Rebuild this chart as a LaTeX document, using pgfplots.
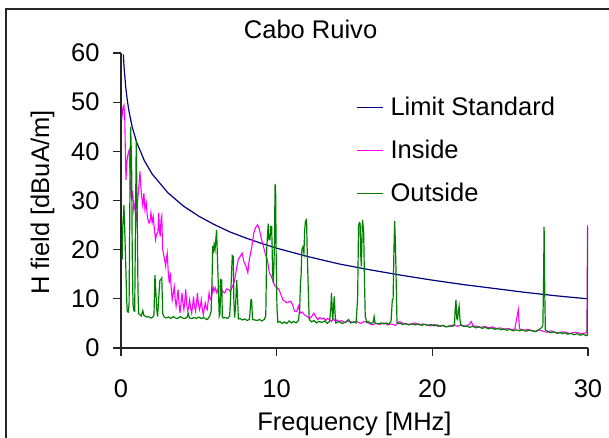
\documentclass[border=0pt]{standalone}
\usepackage{fontspec}
\setmainfont{Liberation Sans}
\usepackage{pgfplots}
\pgfplotsset{compat=1.18}
\definecolor{limitblue}{RGB}{0,0,128}
\definecolor{insidemag}{RGB}{255,0,255}
\definecolor{outsidegreen}{RGB}{0,128,0}

\begin{document}
\fontsize{12.8}{15}\selectfont
\begin{tikzpicture}
\useasboundingbox (-60.5bp,-45bp) rectangle (244bp,174bp);
\draw[line width=1bp, black!85] (-57.6bp,-80bp) -- (-57.6bp,169.5bp) -- (280bp,169.5bp);
\begin{axis}[
  scale only axis,
  width=233.5bp, height=147.5bp,
  xmin=0, xmax=30, ymin=0, ymax=60,
  axis lines=left,
  axis line style={-, line width=0.7bp, black!85},
  xtick={0,10,20,30},
  ytick={0,10,...,60},
  tick align=outside,
  major tick length=4bp,
  tick style={line width=0.6bp, black!85},
  /pgf/number format/assume math mode=true,
  tick label style={font=\fontsize{12.8}{15}\selectfont},
  xticklabel style={anchor=north, inner sep=0pt, yshift=-11.5bp},
  yticklabel style={anchor=east, inner sep=0pt, xshift=-6.5bp},
  xlabel={Frequency [MHz]},
  xlabel style={at={(axis description cs:0.5,0)}, anchor=base, yshift=-41bp},
  ylabel={H field [dBuA/m]},
  ylabel style={at={(axis description cs:-0.154,0.493)}, anchor=base},
  title={Cabo Ruivo},
  title style={at={(axis description cs:0.406,1)}, anchor=base, yshift=1.2bp},
  legend cell align=left,
  legend image code/.code={\draw[#1] (0bp,4.2bp) -- (13bp,4.2bp);},
  legend style={draw=none, fill=none, at={(axis description cs:0.504,0.849)},
    anchor=north west, inner sep=0pt, outer sep=0pt, row sep=12.3bp, column sep=3.5bp,
    nodes={inner sep=0pt, text height=9.2bp, text depth=0bp, anchor=base west},
    font=\fontsize{12.8}{15}\selectfont},
]
% limit standard
\addplot[limitblue, line width=0.6bp] coordinates {
(0.15,59.7) (0.2,57.0) (0.3,53.2) (0.4,50.5) (0.5,48.4) (0.7,45.2) (1,41.9)
(1.5,38.1) (2,35.4) (3,31.6) (4,28.9) (5,26.8) (6,25.1) (7,23.6) (8,22.4)
(9,21.3) (10,20.3) (12,18.6) (14,17.1) (16,15.9) (18,14.8) (20,13.8)
(22,12.9) (24,12.1) (26,11.3) (28,10.6) (30,10.0)
};
% inside
\addplot[insidemag, line width=0.55bp] coordinates {
(0.05,46.5) (0.08,47.4) (0.12,48.8) (0.19,49.4) (0.24,47) (0.28,40) (0.32,34.2)
(0.38,38) (0.45,39.5) (0.53,40.3) (0.6,33) (0.68,30) (0.75,32) (0.82,28)
(0.9,29.5) (1.0,25.7) (1.07,30) (1.15,33) (1.22,35.9) (1.27,33) (1.32,31.1)
(1.4,29) (1.47,31.5) (1.54,28.1) (1.62,29.5) (1.7,26.5) (1.8,25.4) (1.86,25.7)
(1.92,27.5) (2.0,25.5) (2.07,26.7) (2.15,24) (2.22,22) (2.29,23.3) (2.37,23.4)
(2.42,27.5) (2.47,24) (2.52,22.7) (2.57,26) (2.62,26.8) (2.67,20.3) (2.72,19.3)
(2.8,18) (2.87,16.6) (2.93,18.5) (2.97,19.3) (3.04,15.2) (3.1,13.2) (3.17,15.3)
(3.23,12) (3.29,9.8) (3.35,11) (3.42,12.5) (3.48,10) (3.54,8.5) (3.6,10)
(3.67,11.9) (3.73,9) (3.79,7.1) (3.85,9) (3.92,11.2) (3.98,9) (4.04,7.8)
(4.1,9.5) (4.16,11.9) (4.22,9) (4.29,7.5) (4.35,8.5) (4.41,9.8) (4.48,8)
(4.54,7.1) (4.6,8.5) (4.66,10.5) (4.72,8.5) (4.79,7.5) (4.85,9) (4.91,11.2)
(4.97,9) (5.04,7.8) (5.1,8.5) (5.16,9.8) (5.22,8) (5.29,6.8) (5.35,8)
(5.41,9.2) (5.48,8.2) (5.54,7.8) (5.6,9.5) (5.66,11.2) (5.72,10.2) (5.79,9.8)
(5.85,11) (5.91,12.5) (5.97,11.5) (6.05,12.3) (6.16,11.2) (6.28,12.5) (6.41,12.5)
(6.53,11.5) (6.66,11.2) (6.78,12) (6.91,11.9) (7.03,11.5) (7.16,12.5) (7.28,13.5)
(7.41,15.9) (7.53,18) (7.65,18.6) (7.78,19.3) (7.9,17.5) (8.03,16.6) (8.15,15.3)
(8.22,17.5) (8.28,18.6) (8.4,20.5) (8.53,23.4) (8.65,24.5) (8.78,25.1) (8.9,24)
(9.03,22) (9.15,20.7) (9.28,19) (9.4,18) (9.53,15.3) (9.65,14.6) (9.78,13.5)
(9.9,12.5) (10.02,12.3) (10.15,11.9) (10.28,10.8) (10.4,9.8) (10.52,9.5)
(10.65,9.2) (10.78,9.4) (10.9,9.5) (11.02,8.8) (11.15,7.5) (11.29,7.4) (11.4,8.5)
(11.52,7.1) (11.65,7.3) (11.77,6.8) (11.9,6.5) (12.02,6.2) (12.14,6.1) (12.27,6.5)
(12.39,7.1) (12.52,6.3) (12.64,5.8) (12.77,6.2) (12.9,5.9) (13.02,6.1) (13.15,5.6)
(13.27,6) (13.39,5.8) (13.52,5.4) (13.65,5.9) (13.77,5.5) (13.9,5.7) (14.02,5.3)
(14.14,5.6) (14.4,5.2) (14.64,5.5) (14.89,5.2) (15.14,5.4) (15.39,5.0) (15.64,5.4)
(15.89,5.1) (16.13,4.7) (16.38,5.0) (16.63,4.8) (16.88,5.1) (17.13,4.7) (17.38,4.9)
(17.63,4.6) (17.88,5.4) (18.13,5.0) (18.38,4.8) (18.63,4.9) (18.88,5.1) (19.13,4.7)
(19.38,4.9) (19.63,4.7) (19.88,4.5) (20.13,4.8) (20.37,4.4) (20.62,4.6) (20.87,4.3)
(21.12,4.5) (21.37,4.7) (21.62,4.4) (21.87,4.7) (22.12,4.4) (22.37,4.8) (22.49,5.4)
(22.62,4.5) (22.87,4.4) (23.12,4.2) (23.37,4.4) (23.62,4.1) (23.87,4.3) (24.12,3.9)
(24.36,4.1) (24.61,3.8) (24.86,4.0) (25.1,3.7) (25.3,3.9) (25.45,6.5) (25.52,7.8)
(25.6,3.9) (25.85,3.6) (26.1,3.8) (26.36,3.6) (26.61,3.4) (26.86,3.7) (27.1,3.4)
(27.36,3.2) (27.61,3.5) (27.86,3.2) (28.1,3.0) (28.35,3.3) (28.6,3.2) (28.85,2.9)
(29.1,3.2) (29.35,3.1) (29.6,2.9) (29.85,3.1) (29.93,3.2) (29.97,24.7) (30,25)
};
% outside
\addplot[outsidegreen, line width=0.6bp] coordinates {
(0.05,18) (0.08,18.2) (0.12,25) (0.19,29.1) (0.25,23) (0.32,15.2) (0.37,9.5)
(0.4,7.4) (0.47,7.3) (0.52,9) (0.57,30) (0.62,44.9) (0.68,38) (0.72,20) (0.77,9)
(0.82,7.6) (0.88,7.5) (0.93,25) (0.98,42.3) (1.02,32) (1.05,24.6) (1.09,12)
(1.13,7.0) (1.2,6.8) (1.3,6.5) (1.4,7.6) (1.47,6.6) (1.55,6.5) (1.65,6.3)
(1.75,6.4) (1.85,6.2) (1.95,6.1) (2.05,6.3) (2.12,6.8) (2.18,14.8) (2.23,12)
(2.29,8.1) (2.35,6.4) (2.42,10) (2.5,13.8) (2.57,13.9) (2.62,14.2) (2.68,7.0)
(2.78,6.3) (2.9,6.1) (3.05,6.3) (3.2,6.0) (3.35,6.4) (3.5,6.1) (3.65,6.0)
(3.8,6.4) (3.95,6.1) (4.1,6.0) (4.25,6.3) (4.32,7.0) (4.4,6.1) (4.55,6.0)
(4.7,6.2) (4.85,6.0) (5.0,6.3) (5.15,6.0) (5.3,6.2) (5.45,5.9) (5.55,5.8)
(5.7,6.5) (5.79,7.5) (5.85,14) (5.89,20.7) (5.93,19.3) (5.98,21) (6.04,20)
(6.09,22) (6.14,24.0) (6.2,17.9) (6.25,13) (6.31,6.5) (6.36,7.0) (6.41,13.9)
(6.47,13.8) (6.51,6.4) (6.57,6.1) (6.7,6.2) (6.85,6.0) (6.98,6.5) (7.05,11)
(7.1,15.2) (7.15,18.8) (7.21,18.6) (7.25,9.8) (7.3,6.2) (7.36,8.5) (7.43,13.8)
(7.48,11) (7.54,5.9) (7.65,6.0) (7.8,5.7) (7.95,5.9) (8.1,5.6) (8.25,5.8)
(8.35,9.8) (8.39,9.8) (8.45,5.8) (8.6,5.7) (8.75,5.6) (8.9,5.8) (9.05,5.5)
(9.2,5.8) (9.3,6.5) (9.36,20) (9.42,23.4) (9.46,25.3) (9.5,22) (9.57,22)
(9.62,24.7) (9.68,24.7) (9.74,15.2) (9.79,13.2) (9.85,20) (9.9,33.2) (9.93,33.1)
(9.97,18) (10.02,8) (10.08,5.2) (10.2,5.4) (10.35,5.0) (10.5,5.3) (10.65,5.0)
(10.8,5.5) (10.95,5.1) (11.1,5.4) (11.25,5.1) (11.4,5.6) (11.48,8) (11.52,12.5)
(11.57,15) (11.62,20) (11.68,20.5) (11.75,19.3) (11.8,24) (11.85,25.8) (11.92,26.1)
(11.96,20) (12.0,15.3) (12.05,10) (12.09,5.8) (12.25,5.3) (12.4,5.6) (12.55,5.1)
(12.7,5.4) (12.9,5.2) (13.1,5.5) (13.25,5.0) (13.4,5.4) (13.48,8) (13.52,11.2)
(13.57,8) (13.6,5.8) (13.65,8) (13.7,10.5) (13.75,7) (13.8,5.1) (14.0,5.4)
(14.2,5.0) (14.4,5.2) (14.55,5.6) (14.62,5.8) (14.75,5.1) (14.95,5.3) (15.1,5.1)
(15.2,10) (15.26,24.7) (15.31,25.5) (15.36,25.4) (15.4,19) (15.44,16.6) (15.48,22)
(15.51,26.1) (15.55,25) (15.59,23.4) (15.64,14) (15.69,6.4) (15.8,5.2) (15.89,5.4)
(16.05,5.0) (16.2,5.2) (16.26,6.4) (16.32,5.1) (16.5,4.9) (16.7,5.1) (16.88,4.9)
(17.05,5.1) (17.2,4.8) (17.35,5.5) (17.43,9.8) (17.48,10) (17.53,19.3) (17.58,25.8)
(17.62,22) (17.66,16.6) (17.7,10) (17.73,5.1) (17.9,5.0) (18.1,4.8) (18.3,5.0)
(18.5,4.7) (18.7,4.9) (18.9,4.7) (19.1,4.9) (19.3,4.6) (19.5,4.8) (19.7,4.6)
(19.9,4.8) (20.1,4.5) (20.3,4.7) (20.5,4.4) (20.7,4.6) (20.9,4.3) (21.1,4.5)
(21.3,4.4) (21.42,4.7) (21.47,8) (21.52,9.8) (21.57,6) (21.62,5.8) (21.67,7.5)
(21.72,8.5) (21.77,6) (21.82,4.7) (22.0,4.4) (22.2,4.5) (22.4,4.2) (22.6,4.4)
(22.8,4.1) (23.0,4.3) (23.2,4.0) (23.4,4.2) (23.6,3.9) (23.8,4.1) (24.0,3.8)
(24.2,4.0) (24.4,3.7) (24.6,3.9) (24.8,3.6) (25.0,3.8) (25.2,3.5) (25.4,3.7)
(25.6,3.5) (25.8,3.7) (26.0,3.4) (26.2,3.6) (26.4,3.5) (26.6,3.3) (26.8,3.6)
(27.0,4.1) (27.1,4.5) (27.15,15) (27.18,24.7) (27.22,12) (27.26,3.7) (27.4,3.4)
(27.6,3.1) (27.8,3.3) (28.0,3.0) (28.2,3.2) (28.35,2.9) (28.5,3.1) (28.7,2.8)
(28.9,3.0) (29.1,2.7) (29.3,2.9) (29.5,2.6) (29.7,2.8) (29.9,2.5) (29.95,2.6)
(29.97,15) (30,24.4)
};
\legend{Limit Standard, Inside, Outside}
\end{axis}
\end{tikzpicture}
\end{document}
